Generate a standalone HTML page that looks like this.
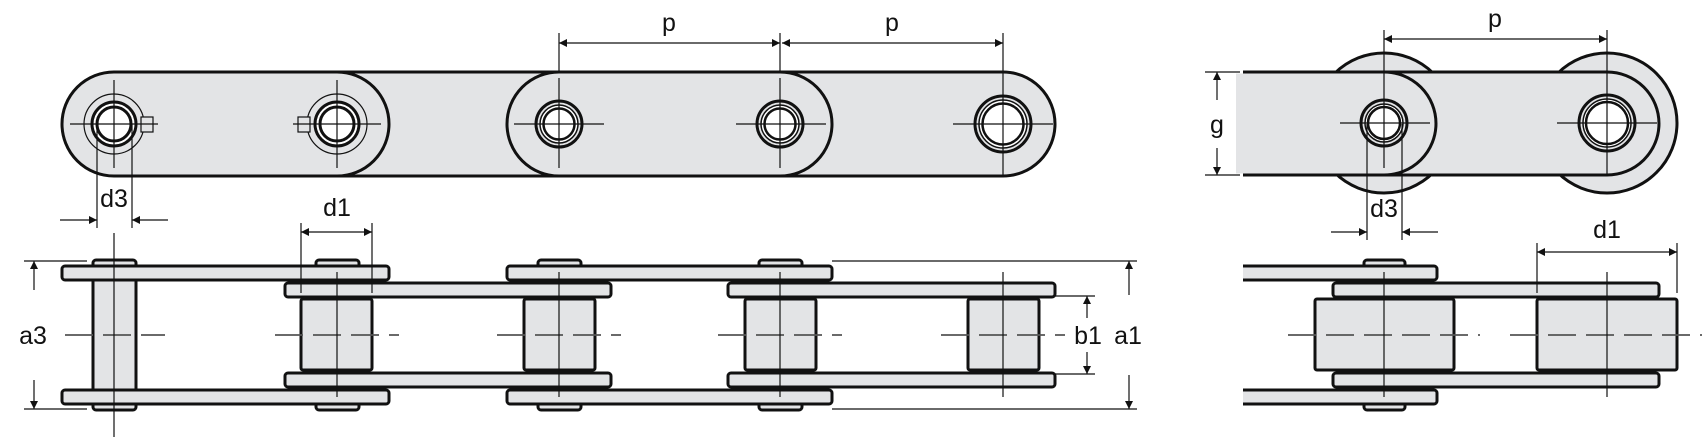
<!DOCTYPE html>
<html><head><meta charset="utf-8"><style>
html,body{margin:0;padding:0;background:#fff;}
svg{display:block;}
text{font-family:"Liberation Sans",Arial,sans-serif;font-size:25px;fill:#111;}
</style></head><body>
<svg width="1702" height="443" viewBox="0 0 1702 443" xmlns="http://www.w3.org/2000/svg">
<defs>
<marker id="ar" viewBox="0 0 10 10" refX="10" refY="5" markerWidth="13" markerHeight="8" markerUnits="userSpaceOnUse" orient="auto-start-reverse"><path d="M0,0 L10,5 L0,10 z" fill="#111"/></marker>
</defs>
<g stroke="#111" stroke-width="3" fill="#e3e4e6">
<rect x="285" y="72" width="770" height="104" rx="52"/>
<rect x="62" y="72" width="327" height="104" rx="52"/>
<rect x="507" y="72" width="325" height="104" rx="52"/>
</g>
<g fill="none" stroke="#111">
<circle cx="114" cy="124" r="30" stroke-width="1.2"/>
<circle cx="337" cy="124" r="30" stroke-width="1.2"/>
</g>
<g stroke="#111" stroke-width="1.2" fill="#e3e4e6">
<rect x="141" y="117" width="12" height="15"/>
<rect x="298" y="117" width="12" height="15"/>
</g>
<g fill="#fff" stroke="#111">
<circle cx="114" cy="124" r="22" stroke-width="3"/><circle cx="114" cy="124" r="17" stroke-width="3"/>
<circle cx="337" cy="124" r="22" stroke-width="3"/><circle cx="337" cy="124" r="17" stroke-width="3"/>
<circle cx="559" cy="124" r="23" stroke-width="3" fill="#e3e4e6"/><circle cx="559" cy="124" r="19" stroke-width="1.5"/><circle cx="559" cy="124" r="15.5" stroke-width="2.5"/>
<circle cx="780" cy="124" r="23" stroke-width="3" fill="#e3e4e6"/><circle cx="780" cy="124" r="19" stroke-width="1.5"/><circle cx="780" cy="124" r="15.5" stroke-width="2.5"/>
<circle cx="1003" cy="124" r="28" stroke-width="3" fill="#e3e4e6"/><circle cx="1003" cy="124" r="24" stroke-width="1.5"/><circle cx="1003" cy="124" r="20.5" stroke-width="2.5"/>
</g>
<g stroke="#111" stroke-width="1.2">
<line x1="70" y1="124" x2="158" y2="124"/><line x1="114" y1="80" x2="114" y2="168"/>
<line x1="293" y1="124" x2="381" y2="124"/><line x1="337" y1="80" x2="337" y2="168"/>
<line x1="514" y1="124" x2="604" y2="124"/><line x1="559" y1="78" x2="559" y2="168"/>
<line x1="736" y1="124" x2="826" y2="124"/><line x1="780" y1="78" x2="780" y2="168"/>
<line x1="953" y1="124" x2="1053" y2="124"/><line x1="1003" y1="72" x2="1003" y2="176"/>
<line x1="559" y1="33" x2="559" y2="72"/><line x1="780" y1="33" x2="780" y2="72"/><line x1="1003" y1="33" x2="1003" y2="72"/>
<line x1="559" y1="43" x2="780" y2="43" marker-start="url(#ar)" marker-end="url(#ar)"/>
<line x1="782" y1="43" x2="1003" y2="43" marker-start="url(#ar)" marker-end="url(#ar)"/>
<line x1="97" y1="124" x2="97" y2="228"/><line x1="132" y1="124" x2="132" y2="228"/>
<line x1="60" y1="220" x2="97" y2="220" marker-end="url(#ar)"/><line x1="168" y1="220" x2="132" y2="220" marker-end="url(#ar)"/>
</g>
<text x="669" y="31" text-anchor="middle">p</text>
<text x="892" y="31" text-anchor="middle">p</text>
<text x="114" y="207" text-anchor="middle">d3</text>

<g stroke="#111" stroke-width="3" fill="#e3e4e6">
<circle cx="1384" cy="123" r="70"/>
<circle cx="1607" cy="123" r="70"/>
<path d="M1243,72 H1607 A52,51.5 0 0 1 1607,175 H1243"/>
<path d="M1243,72 H1384 A52,51.5 0 0 1 1384,175 H1243" />
<rect x="1236" y="73.5" width="8" height="100" stroke="none"/>
</g>
<g fill="#fff" stroke="#111">
<circle cx="1384" cy="123" r="23" stroke-width="3" fill="#e3e4e6"/><circle cx="1384" cy="123" r="19" stroke-width="1.5"/><circle cx="1384" cy="123" r="16" stroke-width="2.5"/>
<circle cx="1607" cy="123" r="28" stroke-width="3" fill="#e3e4e6"/><circle cx="1607" cy="123" r="24" stroke-width="1.5"/><circle cx="1607" cy="123" r="21" stroke-width="2.5"/>
</g>
<g stroke="#111" stroke-width="1.2">
<line x1="1340" y1="123" x2="1430" y2="123"/><line x1="1384" y1="30" x2="1384" y2="168"/>
<line x1="1557" y1="123" x2="1657" y2="123"/><line x1="1607" y1="30" x2="1607" y2="176"/>
<line x1="1384" y1="39" x2="1607" y2="39" marker-start="url(#ar)" marker-end="url(#ar)"/>
<line x1="1205" y1="72" x2="1240" y2="72"/><line x1="1205" y1="175" x2="1240" y2="175"/>
<line x1="1217" y1="100" x2="1217" y2="72" marker-end="url(#ar)"/><line x1="1217" y1="148" x2="1217" y2="175" marker-end="url(#ar)"/>
<line x1="1367" y1="124" x2="1367" y2="240"/><line x1="1402" y1="124" x2="1402" y2="240"/>
<line x1="1331" y1="232" x2="1367" y2="232" marker-end="url(#ar)"/><line x1="1438" y1="232" x2="1402" y2="232" marker-end="url(#ar)"/>
</g>
<text x="1495" y="27" text-anchor="middle">p</text>
<text x="1217" y="133" text-anchor="middle">g</text>
<text x="1384" y="217" text-anchor="middle">d3</text>

<g stroke="#111" stroke-width="3" fill="#e3e4e6">
<rect x="93" y="260" width="43" height="150" rx="3"/>
<rect x="316" y="260" width="43" height="150" rx="3"/>
<rect x="538" y="260" width="43" height="150" rx="3"/>
<rect x="759" y="260" width="43" height="150" rx="3"/>
<rect x="982" y="294" width="43" height="82"/>
<rect x="62" y="266" width="327" height="14" rx="3"/>
<rect x="62" y="390" width="327" height="14" rx="3"/>
<rect x="507" y="266" width="325" height="14" rx="3"/>
<rect x="507" y="390" width="325" height="14" rx="3"/>
<rect x="93" y="280" width="43" height="110"/>
<rect x="285" y="283" width="326" height="14" rx="3"/>
<rect x="285" y="373" width="326" height="14" rx="3"/>
<rect x="728" y="283" width="327" height="14" rx="3"/>
<rect x="728" y="373" width="327" height="14" rx="3"/>
<rect x="301" y="299" width="71" height="71" rx="2"/>
<rect x="524" y="299" width="71" height="71" rx="2"/>
<rect x="745" y="299" width="71" height="71" rx="2"/>
<rect x="968" y="299" width="71" height="71" rx="2"/>
</g>
<g stroke="#555" stroke-width="1.8" stroke-dasharray="28,10">
<line x1="65" y1="335" x2="165" y2="335"/>
<line x1="275" y1="335" x2="399" y2="335"/>
<line x1="497" y1="335" x2="621" y2="335"/>
<line x1="718" y1="335" x2="842" y2="335"/>
<line x1="941" y1="335" x2="1065" y2="335"/>
</g>
<g stroke="#111" stroke-width="1.2">
<line x1="114" y1="233" x2="114" y2="437"/>
<line x1="337" y1="272" x2="337" y2="397"/>
<line x1="559" y1="272" x2="559" y2="397"/>
<line x1="780" y1="272" x2="780" y2="397"/>
<line x1="1003" y1="272" x2="1003" y2="397"/>
<line x1="301" y1="223" x2="301" y2="293"/><line x1="372" y1="223" x2="372" y2="293"/>
<line x1="301" y1="232" x2="372" y2="232" marker-start="url(#ar)" marker-end="url(#ar)"/>
<line x1="24" y1="261" x2="87" y2="261"/><line x1="24" y1="409" x2="87" y2="409"/>
<line x1="34" y1="290" x2="34" y2="261" marker-end="url(#ar)"/><line x1="34" y1="380" x2="34" y2="409" marker-end="url(#ar)"/>
<line x1="832" y1="261" x2="1137" y2="261"/><line x1="832" y1="409" x2="1137" y2="409"/>
<line x1="1129" y1="295" x2="1129" y2="261" marker-end="url(#ar)"/><line x1="1129" y1="375" x2="1129" y2="409" marker-end="url(#ar)"/>
<line x1="1055" y1="296" x2="1095" y2="296"/><line x1="1055" y1="374" x2="1095" y2="374"/>
<line x1="1087" y1="318" x2="1087" y2="296" marker-end="url(#ar)"/><line x1="1087" y1="352" x2="1087" y2="374" marker-end="url(#ar)"/>
</g>
<text x="337" y="216" text-anchor="middle">d1</text>
<text x="33" y="344" text-anchor="middle">a3</text>
<text x="1088" y="344" text-anchor="middle">b1</text>
<text x="1128" y="344" text-anchor="middle">a1</text>

<g stroke="#111" stroke-width="3" fill="#e3e4e6">
<rect x="1364" y="260" width="41" height="150" rx="3"/>
<rect x="1587" y="294" width="41" height="82"/>
<path d="M1243,266 H1434 a3,3 0 0 1 3,3 V277 a3,3 0 0 1 -3,3 H1243"/>
<path d="M1243,390 H1434 a3,3 0 0 1 3,3 V401 a3,3 0 0 1 -3,3 H1243"/>
<rect x="1333" y="283" width="326" height="14" rx="3"/>
<rect x="1333" y="373" width="326" height="14" rx="3"/>
<rect x="1315" y="299" width="139" height="71" rx="2"/>
<rect x="1537" y="299" width="140" height="71" rx="2"/>
</g>
<g stroke="#555" stroke-width="1.8" stroke-dasharray="28,10">
<line x1="1288" y1="335" x2="1480" y2="335"/>
<line x1="1510" y1="335" x2="1702" y2="335"/>
</g>
<g stroke="#111" stroke-width="1.2">
<line x1="1384" y1="272" x2="1384" y2="397"/>
<line x1="1607" y1="272" x2="1607" y2="397"/>
<line x1="1537" y1="243" x2="1537" y2="293"/><line x1="1677" y1="243" x2="1677" y2="293"/>
<line x1="1537" y1="252" x2="1677" y2="252" marker-start="url(#ar)" marker-end="url(#ar)"/>
</g>
<text x="1607" y="238" text-anchor="middle">d1</text>
</svg>
</body></html>
